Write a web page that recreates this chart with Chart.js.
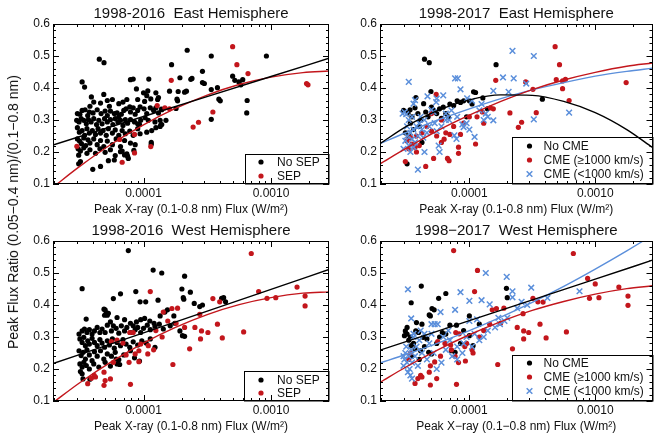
<!DOCTYPE html>
<html><head><meta charset="utf-8">
<script src="https://cdn.jsdelivr.net/npm/chart.js@4"></script>
<style>
html,body{margin:0;padding:0;background:#fff;}
body{width:658px;height:439px;position:relative;overflow:hidden;font-family:'Liberation Sans',Arial,Helvetica,sans-serif;}
canvas{position:absolute;}
#ylab{position:absolute;left:13px;top:212px;transform:translate(-50%,-50%) rotate(-90deg);font-size:14px;white-space:nowrap;color:#111;}
</style></head>
<body>
<canvas id="c1" width="333" height="220" style="left:0;top:0"></canvas>
<canvas id="c2" width="331" height="220" style="left:327px;top:0"></canvas>
<canvas id="c3" width="333" height="220" style="left:0;top:217px"></canvas>
<canvas id="c4" width="331" height="220" style="left:327px;top:217px"></canvas>
<div id="ylab">Peak Flux Ratio (0.05−0.4 nm)/(0.1−0.8 nm)</div>
<script>
// ---------- axis ticks ----------
const xMin = 1.95e-5, xMax = 2.85e-3, yMin = 0.1, yMax = 0.6;
const xTickVals = [2e-5,3e-5,4e-5,5e-5,6e-5,7e-5,8e-5,9e-5,1e-4,2e-4,3e-4,4e-4,5e-4,6e-4,7e-4,8e-4,9e-4,1e-3,2e-3];
const xMajorTicks = [1e-4, 1e-3];
const xMajorLabels = ['0.0001', '0.0010'];
const yTickVals = [0.1,0.12,0.14,0.16,0.18,0.2,0.22,0.24,0.26,0.28,0.3,0.32,0.34,0.36,0.38,0.4,0.42,0.44,0.46,0.48,0.5,0.52,0.54,0.56,0.58,0.6];
const yMajorTicks = [0.1,0.2,0.3,0.4,0.5,0.6];
const yMajorLabels = ['0.1','0.2','0.3','0.4','0.5','0.6'];

// ---------- 1998-2016 East ----------
const eastNoSep16 = [
[4.5e-5,0.49],[4.9e-5,0.479],[3.3e-5,0.419],[3.45e-5,0.403],[7.9e-5,0.426],[8.3e-5,0.428],[1.1e-4,0.428],[1.93e-4,0.432],[2.35e-4,0.427],[8.8e-5,0.397],[1.6e-4,0.39],[1.87e-4,0.389],[2.1e-4,0.387],[2.17e-4,0.39],[1.29e-4,0.364],[1.38e-4,0.334],[1.8e-4,0.336],[1.5e-4,0.299],[1.15e-4,0.23],[1.15e-4,0.224],[9.3e-5,0.286],[4e-5,0.146],[4.6e-5,0.155],[3.1e-5,0.163],[3.2e-5,0.17],[3.1e-5,0.19],[5.3e-5,0.173],[5.9e-5,0.175],[7.1e-5,0.191],[7.5e-5,0.187],[7.6e-5,0.18],[6.6e-5,0.201],
[2.2e-4,0.518],[1.66e-4,0.473],[3.4e-4,0.5],[9.2e-4,0.5],[2.9e-4,0.452],[2.4e-4,0.43],[2.9e-4,0.417],[3e-4,0.414],[5e-4,0.437],[5.2e-4,0.424],[5.6e-4,0.419],[5.8e-4,0.41],[6e-4,0.426],[3.4e-4,0.395],[3.8e-4,0.401],[3.9e-4,0.365],[4e-4,0.36],[6.5e-4,0.361],[6.45e-4,0.322],[3.4e-4,0.302],[1.83e-4,0.365],[1.85e-4,0.36],[1.35e-4,0.28],[1.37e-4,0.286],
[3.9e-5,0.372],[4.07e-5,0.356],[4.88e-5,0.38],[5.2e-5,0.361],[5.7e-5,0.364],[6.4e-5,0.351],[6.9e-5,0.356],[7.4e-5,0.364],[7.8e-5,0.341],[5.4e-5,0.343],[4.6e-5,0.353],[3.8e-5,0.343],[9.0e-5,0.364],[1.0e-4,0.385],[1.06e-4,0.376],[1.02e-4,0.358],[1.14e-4,0.366],[1.31e-4,0.37],[1.25e-4,0.385],[1.08e-4,0.391],
[3.03e-5,0.32],[3.17e-5,0.318],[3.3e-5,0.33],[3.48e-5,0.332],[3.65e-5,0.314],[3.76e-5,0.325],[4.02e-5,0.322],[4.33e-5,0.332],[4.65e-5,0.32],[5.0e-5,0.328],[5.2e-5,0.314],[5.5e-5,0.328],[5.9e-5,0.32],[6.2e-5,0.322],[6.4e-5,0.309],[6.7e-5,0.318],[7.0e-5,0.33],[7.3e-5,0.335],[7.9e-5,0.325],[8.3e-5,0.338],[8.6e-5,0.318],[9.0e-5,0.33],[9.4e-5,0.341],[1.01e-4,0.335],[1.06e-4,0.32],[1.13e-4,0.338],[1.2e-4,0.33],[1.25e-4,0.338],[1.31e-4,0.322],[1.39e-4,0.332],
[2.99e-5,0.299],[3.12e-5,0.294],[3.24e-5,0.304],[3.4e-5,0.299],[3.56e-5,0.288],[3.7e-5,0.301],[3.88e-5,0.294],[4.07e-5,0.304],[4.28e-5,0.286],[4.46e-5,0.299],[4.73e-5,0.288],[4.95e-5,0.304],[5.2e-5,0.294],[5.5e-5,0.301],[5.75e-5,0.286],[6.0e-5,0.304],[6.3e-5,0.294],[6.6e-5,0.299],[6.9e-5,0.283],[7.2e-5,0.301],[7.5e-5,0.29],[7.9e-5,0.301],[8.5e-5,0.294],[9.0e-5,0.288],[9.5e-5,0.299],[1.03e-4,0.307],[1.09e-4,0.299],[1.23e-4,0.294],[1.35e-4,0.299],[1.39e-4,0.286],
[3.03e-5,0.276],[3.14e-5,0.262],[3.3e-5,0.267],[3.45e-5,0.252],[3.6e-5,0.273],[3.76e-5,0.259],[3.97e-5,0.267],[4.2e-5,0.255],[4.4e-5,0.273],[4.6e-5,0.259],[4.82e-5,0.267],[5.1e-5,0.252],[5.3e-5,0.273],[5.7e-5,0.259],[6.0e-5,0.269],[6.4e-5,0.252],[6.8e-5,0.267],[7.2e-5,0.257],[7.8e-5,0.265],[8.3e-5,0.252],[9.0e-5,0.273],[9.4e-5,0.257],[1.06e-4,0.262],[1.16e-4,0.267],[1.25e-4,0.276],
[3.03e-5,0.241],[3.15e-5,0.234],[3.26e-5,0.226],[3.4e-5,0.244],[3.52e-5,0.22],[3.67e-5,0.238],[3.8e-5,0.228],[4.07e-5,0.241],[4.33e-5,0.223],[4.6e-5,0.236],[4.88e-5,0.217],[5.2e-5,0.234],[5.7e-5,0.223],[6.1e-5,0.241],[6.6e-5,0.217],[7.1e-5,0.236],[7.9e-5,0.228],[8.6e-5,0.223],
[3.07e-5,0.21],[3.2e-5,0.203],[3.4e-5,0.213],[3.6e-5,0.196],[3.8e-5,0.207],[4.2e-5,0.196],[4.55e-5,0.21],[5.0e-5,0.199],[5.5e-5,0.207],[6.0e-5,0.189],[6.8e-5,0.203],[7.4e-5,0.194],[8.4e-5,0.205]
];
const eastSep16 = [[3e-5,0.218],[6.5e-5,0.239],[8.5e-5,0.255],[6.8e-5,0.168],[8.5e-5,0.197],[1.14e-4,0.217],[1.28e-4,0.345],[1.47e-4,0.338],[1.6e-4,0.335],[1.65e-4,0.424],[2.45e-4,0.278],[2.7e-4,0.293],[3.5e-4,0.325],[5e-4,0.529],[5.4e-4,0.473],[6.6e-4,0.445],[1.9e-3,0.414],[1.95e-3,0.41]];
const eastNoSepFit16 = [[1.95e-5,0.222],[1e-4,0.311],[1e-3,0.436],[2.85e-3,0.493]];
const eastSepFit16 = [[1.95e-5,0.090],[3.16e-5,0.155],[5.62e-5,0.225],[1e-4,0.285],[1.78e-4,0.336],[3.16e-4,0.378],[5.62e-4,0.411],[1e-3,0.434],[1.78e-3,0.448],[2.85e-3,0.453]];

// ---------- 1998-2017 East ----------
const eastNoCme17 = [[4.4e-5,0.49],[4.8e-5,0.479],[1.63e-4,0.473],[3.8e-4,0.365],[3.2e-5,0.163],[3.76e-5,0.37],[4.95e-5,0.389],[3.38e-5,0.332],[3.26e-5,0.322],[4.33e-5,0.351],[3.7e-5,0.338],[1.08e-4,0.388],[1.12e-4,0.386],[1.28e-4,0.369],[1.39e-4,0.335],[3.0e-5,0.33],[3.5e-5,0.31],[3.9e-5,0.32],[4.1e-5,0.30],[4.5e-5,0.325],[4.7e-5,0.31],[5.2e-5,0.33],[5.5e-5,0.32],[5.8e-5,0.335],[6.2e-5,0.34],[6.5e-5,0.32],[7.0e-5,0.35],[7.5e-5,0.345],[8.0e-5,0.36],[8.5e-5,0.355],[9e-5,0.36],[9.5e-5,0.31],[1.05e-4,0.35],[1.0e-4,0.36],[3.4e-5,0.29],[3.6e-5,0.27],[4e-5,0.28],[3.3e-5,0.25],[6e-5,0.305],[6.8e-5,0.31],[5e-5,0.34],[3.1e-5,0.26],[4.2e-5,0.23]];
const eastFastCme17 = [[5.45e-5,0.38],[1.62e-4,0.424],[1.47e-4,0.338],[1.55e-4,0.335],[1.27e-4,0.325],[2.1e-4,0.322],[2.45e-4,0.277],[2.6e-4,0.293],[3.4e-4,0.323],[3.2e-4,0.396],[2.8e-4,0.419],[4.8e-4,0.529],[5.2e-4,0.473],[4.9e-4,0.426],[5.5e-4,0.422],[5.8e-4,0.427],[5.5e-4,0.398],[6.2e-4,0.361],[1.76e-3,0.417],[1.12e-4,0.225],[8.2e-5,0.215],[8.2e-5,0.196],[6.7e-5,0.18],[6.9e-5,0.173],[5.2e-5,0.18],[4.5e-5,0.155],[3.1e-5,0.17],[3.8e-5,0.2],[3.2e-5,0.235],[3.4e-5,0.245],[3.5e-5,0.225],[3.7e-5,0.215],[3.3e-5,0.21],[4e-5,0.22],[4.2e-5,0.26],[4.6e-5,0.28],[5e-5,0.265],[5.5e-5,0.25],[6e-5,0.23],[6.3e-5,0.24],[6.5e-5,0.26],[7e-5,0.255],[7.5e-5,0.28],[8.5e-5,0.255],[9e-5,0.29],[1e-4,0.31],[1.15e-4,0.31],[1.3e-4,0.29],[5e-5,0.32],[6e-5,0.3],[3.8e-5,0.25]];
const eastSlowCme17 = [[2.2e-4,0.516],[3.25e-4,0.5],[2.25e-4,0.43],[1.85e-4,0.433],[2.83e-4,0.414],[3.25e-4,0.302],[6.2e-4,0.323],[2.05e-4,0.388],[1.55e-4,0.391],[1.55e-4,0.299],[7.7e-5,0.43],[8.1e-5,0.43],[8.5e-5,0.396],[3.3e-5,0.419],[5.45e-5,0.356],[5.5e-5,0.367],[6.2e-5,0.377],[4.65e-5,0.374],[3.7e-5,0.362],[3.6e-5,0.351],[9.6e-5,0.368],[5e-5,0.332],[5.2e-5,0.325],[2.95e-5,0.32],[3.05e-5,0.325],[3.15e-5,0.318],[8.8e-5,0.286],[9e-5,0.278],[6.5e-5,0.3],[6.9e-5,0.3],[7.6e-5,0.252],[7.9e-5,0.241],[5.8e-5,0.2],[5.7e-5,0.22],[3.9e-5,0.145],[4.4e-5,0.2],[1.1e-4,0.247],[1.2e-4,0.33],[1.3e-4,0.3],[1.35e-4,0.32],[1.25e-4,0.35],[1.05e-4,0.36],[1.4e-4,0.31],[3.0e-5,0.21],[3.1e-5,0.235],[3.2e-5,0.25],[3.3e-5,0.22],[3.4e-5,0.26],[3.5e-5,0.24],[3.6e-5,0.27],[3.7e-5,0.23],[3.8e-5,0.28],[3.9e-5,0.25],[4.0e-5,0.29],[4.2e-5,0.27],[4.4e-5,0.3],[4.6e-5,0.26],[4.8e-5,0.28],[3.3e-5,0.3],[3.5e-5,0.31],[3.2e-5,0.28],[3.4e-5,0.2],[3.6e-5,0.215],[4.1e-5,0.31],[5.5e-5,0.265],[6e-5,0.28],[6.5e-5,0.32],[7.2e-5,0.33],[8e-5,0.31],[9.5e-5,0.29],[1e-4,0.27],[5.3e-5,0.29],[4.3e-5,0.245]];
const eastNoCmeFit = [[1.95e-5,0.226],[3.16e-5,0.280],[5.62e-5,0.330],[1e-4,0.363],[1.78e-4,0.3785],[3.16e-4,0.377],[5.62e-4,0.358],[1e-3,0.323],[1.78e-3,0.270],[2.85e-3,0.214]];
const eastFastCmeFit = [[1.95e-5,0.163],[3.16e-5,0.212],[5.62e-5,0.267],[1e-4,0.315],[1.78e-4,0.358],[3.16e-4,0.395],[5.62e-4,0.425],[1e-3,0.449],[1.78e-3,0.468],[2.85e-3,0.478]];
const eastSlowCmeFit = [[1.95e-5,0.226],[3.16e-5,0.261],[5.62e-5,0.300],[1e-4,0.335],[1.78e-4,0.367],[3.16e-4,0.394],[5.62e-4,0.417],[1e-3,0.437],[1.78e-3,0.452],[2.85e-3,0.462]];

// ---------- 1998-2016 West ----------
const westNoSep16 = [
[7.6e-5,0.570],[3.3e-5,0.451],[1.19e-4,0.509],[1.39e-4,0.5],[2.1e-4,0.49],[6.6e-5,0.435],[5.8e-5,0.42],[8.7e-5,0.442],[9.4e-5,0.41],[1.04e-4,0.41],[1.3e-4,0.415],[2e-4,0.45],[2.05e-4,0.423],[2.07e-4,0.418],[2.33e-4,0.44],[2.5e-4,0.405],[4.9e-5,0.387],[5.1e-5,0.376],[5.2e-5,0.368],[4.95e-5,0.368],[3.55e-5,0.356],[3.2e-5,0.192],[3.3e-5,0.185],[3.35e-5,0.169],[3.8e-5,0.168],[6.5e-5,0.214],[6.1e-5,0.231],[2.76e-4,0.395],[2.9e-4,0.4],[4.1e-4,0.421],[4.25e-4,0.423],[4.4e-4,0.41],[9.3e-5,0.225],[8.5e-5,0.235],
[5.0e-5,0.385],[5.3e-5,0.374],[5.5e-5,0.347],[6.2e-5,0.361],[7.1e-5,0.354],[7.9e-5,0.343],[8.8e-5,0.347],[9.5e-5,0.354],[1.02e-4,0.358],[1.12e-4,0.35],[1.21e-4,0.343],[1.35e-4,0.366],[1.47e-4,0.378],[1.54e-4,0.385],[1.73e-4,0.366],
[3.12e-5,0.309],[3.3e-5,0.319],[3.44e-5,0.325],[3.6e-5,0.314],[3.76e-5,0.323],[3.95e-5,0.309],[4.12e-5,0.319],[4.33e-5,0.33],[4.55e-5,0.314],[4.73e-5,0.325],[5.0e-5,0.314],[5.2e-5,0.337],[5.6e-5,0.319],[5.8e-5,0.335],[6.1e-5,0.327],[6.4e-5,0.312],[6.7e-5,0.335],[7.1e-5,0.319],[7.4e-5,0.33],[7.9e-5,0.314],[8.3e-5,0.335],[8.6e-5,0.323],[9.0e-5,0.33],[9.5e-5,0.314],[1.0e-4,0.327],[1.07e-4,0.337],[1.13e-4,0.323],[1.23e-4,0.333],[1.33e-4,0.34],[1.43e-4,0.325],[1.62e-4,0.335],[1.76e-4,0.343],[1.93e-4,0.319],[2.02e-4,0.304],[2.1e-4,0.302],
[3.17e-5,0.294],[3.3e-5,0.283],[3.4e-5,0.299],[3.5e-5,0.273],[3.65e-5,0.288],[3.76e-5,0.278],[3.95e-5,0.296],[4.12e-5,0.283],[4.33e-5,0.273],[4.55e-5,0.292],[4.73e-5,0.281],[4.95e-5,0.268],[5.2e-5,0.288],[5.4e-5,0.275],[5.7e-5,0.294],[5.9e-5,0.265],[6.2e-5,0.283],[6.6e-5,0.273],[6.9e-5,0.292],[7.3e-5,0.278],[7.8e-5,0.268],[8.3e-5,0.285],[9.0e-5,0.275],[9.7e-5,0.288],[1.05e-4,0.281],[1.13e-4,0.294],[1.23e-4,0.268],
[3.12e-5,0.257],[3.24e-5,0.242],[3.36e-5,0.252],[3.5e-5,0.231],[3.6e-5,0.26],[3.76e-5,0.244],[3.95e-5,0.226],[4.12e-5,0.254],[4.33e-5,0.24],[4.6e-5,0.257],[4.88e-5,0.231],[5.2e-5,0.247],[5.6e-5,0.24],[6.0e-5,0.252],[6.4e-5,0.229],[7.0e-5,0.244],[7.9e-5,0.257],
[3.17e-5,0.216],[3.3e-5,0.206],[3.4e-5,0.221],[3.56e-5,0.211],[3.76e-5,0.2],[4.07e-5,0.216],[4.46e-5,0.206],[5.0e-5,0.221],[5.5e-5,0.209],[6.2e-5,0.216]
];
const westSep16 = [[1.13e-4,0.442],[1.43e-4,0.378],[1.67e-4,0.389],[1.8e-4,0.343],[2.1e-4,0.33],[7.8e-5,0.314],[8.3e-5,0.314],[5.6e-5,0.286],[6.9e-5,0.281],[9.5e-5,0.278],[9.2e-5,0.257],[8.6e-5,0.247],[7.3e-5,0.244],[1.09e-4,0.273],[1.08e-4,0.247],[7.7e-5,0.221],[9.2e-5,0.223],[5.8e-5,0.221],[4.9e-5,0.19],[4.1e-5,0.18],[4.2e-5,0.175],[3.65e-5,0.154],[3.9e-5,0.171],[4.9e-5,0.149],[5e-5,0.164],[5.5e-5,0.169],[7.9e-5,0.152],[1.7e-4,0.214],[7e-4,0.561],[8e-4,0.442],[9.3e-4,0.421],[1.09e-3,0.423],[1.6e-3,0.456],[1.85e-3,0.428],[1.85e-3,0.397],[3.5e-4,0.42],[3.96e-4,0.41],[2.76e-4,0.371],[2.53e-4,0.33],[2.85e-4,0.319],[3.2e-4,0.314],[2.8e-4,0.294],[3.8e-4,0.34],[4.15e-4,0.297],[6.1e-4,0.316],[2.3e-4,0.263],[1.25e-4,0.32],[1.4e-4,0.3],[1.55e-4,0.35],[1.85e-4,0.39],[6.2e-5,0.29],[1.2e-4,0.26]];
const westNoSepFit16 = [[1.95e-5,0.217],[1e-4,0.313],[1e-3,0.449],[2.85e-3,0.511]];
const westSepFit16 = [[1.95e-5,0.095],[3.16e-5,0.157],[5.62e-5,0.223],[1e-4,0.281],[1.78e-4,0.330],[3.16e-4,0.370],[5.62e-4,0.401],[1e-3,0.423],[1.78e-3,0.437],[2.85e-3,0.441]];

// ---------- 1998-2017 West ----------
const westNoCme17 = [[4.15e-5,0.459],[3.45e-5,0.407],[5.7e-5,0.421],[6.5e-5,0.436],[5.05e-5,0.389],[5.25e-5,0.385],[4.8e-5,0.369],[4.9e-5,0.366],[1e-4,0.366],[1.97e-4,0.452],[2.0e-4,0.423],[3.8e-5,0.345],[4.2e-5,0.34],[3.1e-5,0.319],[3.2e-5,0.309],[3.05e-5,0.304],[3.75e-5,0.319],[3.95e-5,0.314],[7e-5,0.337],[7.9e-5,0.337],[6.1e-5,0.314],[6.5e-5,0.309],[4.3e-5,0.299],[4.6e-5,0.294],[3.45e-5,0.273],[3.7e-5,0.263],[4.75e-5,0.252],[5e-5,0.247],[4.1e-5,0.257],[7.2e-5,0.257],[7.7e-5,0.252],[1e-4,0.304],[1.07e-4,0.273],[3.3e-5,0.29],[3.5e-5,0.24],[3.4e-5,0.3],[5.5e-5,0.28],[8.5e-5,0.28],[9e-5,0.32],[1.2e-4,0.34],[3.2e-5,0.33],[3.6e-5,0.28],[4.4e-5,0.27],[4e-5,0.23],[5.8e-5,0.3]];
const westFastCme17 = [[7.5e-5,0.57],[1.16e-4,0.508],[1.1e-4,0.442],[1.52e-4,0.385],[1.64e-4,0.389],[1.45e-4,0.34],[1.77e-4,0.343],[6.7e-4,0.561],[8.7e-4,0.483],[1e-3,0.466],[9e-4,0.421],[1.07e-3,0.423],[1.54e-3,0.456],[1.82e-3,0.428],[1.82e-3,0.399],[3.2e-4,0.421],[3.5e-4,0.41],[3.85e-4,0.409],[2.67e-4,0.373],[2.4e-4,0.33],[2.7e-4,0.319],[2.96e-4,0.314],[2.7e-4,0.294],[3.64e-4,0.34],[4.07e-4,0.297],[5.9e-4,0.316],[2.2e-4,0.263],[7.8e-5,0.314],[8.3e-5,0.31],[5.6e-5,0.286],[6.4e-5,0.28],[7.1e-5,0.275],[7.2e-5,0.26],[9.2e-5,0.27],[9.5e-5,0.28],[1.05e-4,0.26],[1.07e-4,0.25],[7.7e-5,0.24],[9.3e-5,0.225],[8.2e-5,0.22],[5.9e-5,0.24],[4.9e-5,0.21],[5.3e-5,0.222],[4.8e-5,0.19],[4.1e-5,0.18],[4.2e-5,0.175],[3.7e-5,0.155],[3.9e-5,0.17],[4.9e-5,0.15],[5.5e-5,0.17],[7.9e-5,0.152],[1.68e-4,0.214],[3.4e-5,0.25],[3.3e-5,0.23],[1.3e-4,0.32],[1.2e-4,0.3],[1.88e-4,0.39]];
const westSlowCme17 = [[3.25e-5,0.449],[8.5e-5,0.44],[1e-4,0.413],[1.25e-4,0.415],[1.45e-4,0.402],[7.7e-5,0.385],[5.9e-5,0.378],[3.45e-5,0.358],[5e-5,0.34],[5.3e-5,0.34],[5.6e-5,0.34],[2.2e-4,0.443],[2.2e-4,0.424],[3.1e-4,0.454],[2.88e-4,0.4],[4.17e-4,0.422],[7.5e-4,0.443],[1.35e-4,0.5],[1.98e-4,0.488],[1.6e-4,0.33],[1.75e-4,0.34],[1.9e-4,0.35],[1.4e-4,0.32],[1.3e-4,0.3],[1.2e-4,0.29],[1.1e-4,0.31],[9.5e-5,0.3],[9e-5,0.28],[8e-5,0.27],[8e-5,0.23],[7e-5,0.29],[6.5e-5,0.26],[6.2e-5,0.3],[6e-5,0.22],[5.5e-5,0.2],[5.2e-5,0.25],[4.8e-5,0.28],[4.6e-5,0.23],[4.4e-5,0.31],[4.2e-5,0.25],[4e-5,0.29],[3.9e-5,0.21],[3.8e-5,0.27],[3.7e-5,0.24],[3.6e-5,0.3],[3.5e-5,0.22],[3.45e-5,0.26],[3.35e-5,0.2],[3.3e-5,0.24],[3.2e-5,0.22],[3.15e-5,0.27],[3.1e-5,0.25],[3.05e-5,0.23],[3e-5,0.24],[3.4e-5,0.18],[3.5e-5,0.17],[3.6e-5,0.31],[4.1e-5,0.32],[5e-5,0.31],[6.8e-5,0.32],[1e-4,0.35],[1.15e-4,0.355],[2.6e-4,0.41],[2.4e-4,0.39],[1.7e-4,0.36],[2e-4,0.36],[3e-5,0.21],[3.25e-5,0.19],[7.3e-5,0.24],[8.8e-5,0.25],[1.05e-4,0.27]];
const westNoCmeFit = [[1.95e-5,0.259],[1e-4,0.351],[1e-3,0.481],[2.85e-3,0.54]];
const westFastCmeFit = [[1.95e-5,0.158],[3.16e-5,0.207],[5.62e-5,0.260],[1e-4,0.307],[1.78e-4,0.348],[3.16e-4,0.383],[5.62e-4,0.411],[1e-3,0.434],[1.78e-3,0.451],[2.85e-3,0.460]];
const westSlowCmeFit = [[1.95e-5,0.219],[3.16e-5,0.246],[5.62e-5,0.281],[1e-4,0.320],[1.78e-4,0.362],[3.16e-4,0.408],[5.62e-4,0.458],[1e-3,0.512],[1.78e-3,0.569],[2.85e-3,0.618]];

// ---------- styling ----------
const BLACK = '#000000', RED = '#c3161c', BLUE = '#5b8fdb', TXT = '#111111';
const FONT = "'Liberation Sans', Arial, Helvetica, sans-serif";
const CROSS_R = 4, DOT_R = 2.6;

function pts(arr) { return arr.map(p => ({x: p[0], y: p[1]})); }
function dots(arr, color) {
  return {data: pts(arr), pointStyle: 'circle', pointRadius: DOT_R, backgroundColor: color, borderColor: color, borderWidth: 0, showLine: false};
}
function crosses(arr, color) {
  return {data: pts(arr), pointStyle: 'crossRot', pointRadius: CROSS_R, backgroundColor: color, borderColor: color, borderWidth: 1.5, showLine: false};
}
function fit(arr, color) {
  return {data: pts(arr), showLine: true, borderColor: color, borderWidth: 1.4, pointRadius: 0, fill: false, cubicInterpolationMode: 'monotone'};
}
function findLabel(v, vals, labels) {
  for (let i = 0; i < vals.length; i++) if (Math.abs(v - vals[i]) <= Math.abs(vals[i]) * 1e-6) return labels[i];
  return '';
}

function drawMarker(ctx, style, color, x, y) {
  ctx.save();
  ctx.fillStyle = color; ctx.strokeStyle = color;
  if (style === 'crossRot') {
    ctx.lineWidth = 1.5;
    const d = CROSS_R * Math.SQRT1_2;
    ctx.beginPath(); ctx.moveTo(x - d, y - d); ctx.lineTo(x + d, y + d); ctx.moveTo(x - d, y + d); ctx.lineTo(x + d, y - d); ctx.stroke();
  } else {
    ctx.beginPath(); ctx.arc(x, y, DOT_R, 0, Math.PI * 2); ctx.fill();
  }
  ctx.restore();
}

function makePanel(id, cfg) {
  const panelPlugin = {
    id: 'panel_' + id,
    beforeDatasetsDraw(chart) {
      const a = chart.chartArea, ctx = chart.ctx, b = cfg.legend;
      const lx = Math.round(a.right - b.w) + 0.5, ly = Math.round(a.bottom - b.h) + 0.5;
      ctx.save();
      ctx.fillStyle = '#fff'; ctx.fillRect(lx, ly, a.right - lx, a.bottom - ly);
      ctx.strokeStyle = '#000'; ctx.lineWidth = 1;
      ctx.strokeRect(lx, ly, Math.round(a.right) - lx, Math.round(a.bottom) - ly);
      ctx.restore();
    },
    afterDatasetsDraw(chart) {
      const a = chart.chartArea, ctx = chart.ctx, b = cfg.legend;
      const lx = a.right - b.w;
      ctx.save();
      ctx.font = '12px ' + FONT; ctx.fillStyle = TXT; ctx.textBaseline = 'middle'; ctx.textAlign = 'left';
      b.entries.forEach(e => {
        const y = a.bottom - e.dy;
        drawMarker(ctx, e.style, e.color, lx + b.mx, y);
        ctx.fillStyle = TXT;
        ctx.fillText(e.label, lx + b.tx, y + 0.5);
      });
      ctx.restore();
    },
    afterDraw(chart) {
      const a = chart.chartArea, ctx = chart.ctx, xs = chart.scales.x, ys = chart.scales.y;
      ctx.save();
      ctx.strokeStyle = '#000'; ctx.lineWidth = 1;
      ctx.beginPath();
      xs.ticks.forEach(t => {
        const px = Math.round(xs.getPixelForValue(t.value)) + 0.5;
        const L = findLabel(t.value, xMajorTicks, xMajorLabels) ? 6 : 3;
        ctx.moveTo(px, a.bottom); ctx.lineTo(px, a.bottom - L);
        ctx.moveTo(px, a.top); ctx.lineTo(px, a.top + L);
      });
      ys.ticks.forEach(t => {
        const py = Math.round(ys.getPixelForValue(t.value)) + 0.5;
        const L = findLabel(t.value, yMajorTicks, yMajorLabels) ? 6 : 3;
        ctx.moveTo(a.left, py); ctx.lineTo(a.left + L, py);
        ctx.moveTo(a.right, py); ctx.lineTo(a.right - L, py);
      });
      ctx.stroke();
      const l = Math.round(a.left) + 0.5, t = Math.round(a.top) + 0.5;
      ctx.strokeRect(l, t, Math.round(a.right) - 0.5 - l, Math.round(a.bottom) - 0.5 - t);
      ctx.fillStyle = TXT; ctx.font = '15px ' + FONT; ctx.textAlign = 'center'; ctx.textBaseline = 'middle';
      ctx.fillText(cfg.title, (a.left + a.right) / 2, a.top - 10);
      ctx.restore();
    }
  };
  new Chart(document.getElementById(id), {
    type: 'scatter',
    data: {datasets: cfg.datasets},
    options: {
      responsive: false, animation: false, devicePixelRatio: 1, events: [],
      layout: {padding: {top: 24, right: cfg.padRight, bottom: 0, left: 0}},
      plugins: {legend: {display: false}, tooltip: {enabled: false}},
      scales: {
        x: {
          type: 'logarithmic', min: xMin, max: xMax,
          afterBuildTicks: s => { s.ticks = xTickVals.map(v => ({value: v})); },
          afterFit: s => { s.height = 36; },
          grid: {display: false, drawTicks: false}, border: {display: false},
          ticks: {autoSkip: false, maxRotation: 0, minRotation: 0, padding: 2, color: TXT, font: {family: FONT, size: 12},
                  callback: v => findLabel(v, xMajorTicks, xMajorLabels)},
          title: {display: true, text: cfg.xTitle, color: TXT, font: {family: FONT, size: 12}, padding: {top: 0, bottom: 3}}
        },
        y: {
          type: 'linear', min: yMin, max: yMax,
          afterBuildTicks: s => { s.ticks = yTickVals.map(v => ({value: v})); },
          afterFit: s => { s.width = 53; },
          grid: {display: false, drawTicks: false}, border: {display: false},
          ticks: {autoSkip: false, padding: 3, color: TXT, font: {family: FONT, size: 12},
                  callback: v => findLabel(v, yMajorTicks, yMajorLabels)}
        }
      }
    },
    plugins: [panelPlugin]
  });
}

makePanel('c1', {
  title: '1998-2016  East Hemisphere', xTitle: 'Peak X-ray (0.1-0.8 nm) Flux (W/m²)', padRight: 3,
  legend: {w: 84, h: 30, mx: 16, tx: 32, entries: [
    {label: 'No SEP', color: BLACK, style: 'circle', dy: 22},
    {label: 'SEP', color: RED, style: 'circle', dy: 8}]},
  datasets: [fit(eastNoSepFit16, BLACK), fit(eastSepFit16, RED), dots(eastSep16, RED), dots(eastNoSep16, BLACK)]
});
makePanel('c2', {
  title: '1998-2017  East Hemisphere', xTitle: 'Peak X-ray (0.1-0.8 nm) Flux (W/m²)', padRight: 1,
  legend: {w: 141, h: 47, mx: 18, tx: 32, entries: [
    {label: 'No CME', color: BLACK, style: 'circle', dy: 38},
    {label: 'CME (≥1000 km/s)', color: RED, style: 'circle', dy: 24},
    {label: 'CME (<1000 km/s)', color: BLUE, style: 'crossRot', dy: 10}]},
  datasets: [fit(eastNoCmeFit, BLACK), fit(eastFastCmeFit, RED), fit(eastSlowCmeFit, BLUE),
             crosses(eastSlowCme17, BLUE), dots(eastFastCme17, RED), dots(eastNoCme17, BLACK)]
});
makePanel('c3', {
  title: '1998-2016  West Hemisphere', xTitle: 'Peak X-ray (0.1-0.8 nm) Flux (W/m²)', padRight: 3,
  legend: {w: 85, h: 30, mx: 17, tx: 33, entries: [
    {label: 'No SEP', color: BLACK, style: 'circle', dy: 21},
    {label: 'SEP', color: RED, style: 'circle', dy: 8}]},
  datasets: [fit(westNoSepFit16, BLACK), fit(westSepFit16, RED), dots(westSep16, RED), dots(westNoSep16, BLACK)]
});
makePanel('c4', {
  title: '1998−2017  West Hemisphere', xTitle: 'Peak X−ray (0.1−0.8 nm) Flux (W/m²)', padRight: 1,
  legend: {w: 141, h: 46, mx: 18, tx: 32, entries: [
    {label: 'No CME', color: BLACK, style: 'circle', dy: 38},
    {label: 'CME (≥1000 km/s)', color: RED, style: 'circle', dy: 24},
    {label: 'CME (<1000 km/s)', color: BLUE, style: 'crossRot', dy: 10}]},
  datasets: [fit(westNoCmeFit, BLACK), fit(westFastCmeFit, RED), fit(westSlowCmeFit, BLUE),
             crosses(westSlowCme17, BLUE), dots(westFastCme17, RED), dots(westNoCme17, BLACK)]
});
</script>
</body></html>
